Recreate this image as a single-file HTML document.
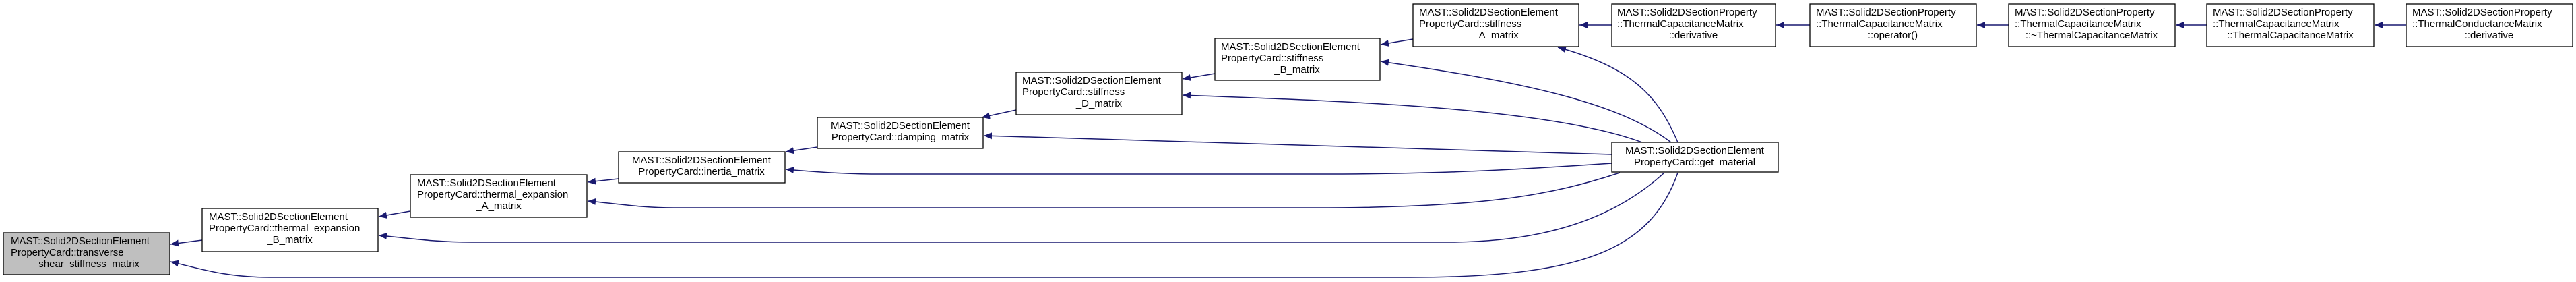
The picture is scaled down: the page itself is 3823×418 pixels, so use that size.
<!DOCTYPE html>
<html><head><meta charset="utf-8"><style>
html,body{margin:0;padding:0;background:#fff;}
svg{display:block;}
text{font-family:"Liberation Sans",Arial,sans-serif;font-size:15px;fill:#000;}
</style></head><body>
<svg width="3823" height="418" viewBox="0 0 3823 418" xmlns="http://www.w3.org/2000/svg">
<defs>
<marker id="a" markerUnits="userSpaceOnUse" markerWidth="14" markerHeight="12" refX="12" refY="5" orient="auto">
<path d="M0,0 L12,5 L0,10 z" fill="#191970"/>
</marker>
</defs>
<g fill="none" stroke="#191970" stroke-width="1.5" marker-end="url(#a)">
<!-- chain -->
<path d="M300,356 L253,362"/>
<path d="M609,313 L562,321"/>
<path d="M918,265 L872,270"/>
<path d="M1213,218 L1166,225"/>
<path d="M1508,163 L1457,174"/>
<path d="M1803,109 L1755,117"/>
<path d="M2097,58 L2049,66"/>
<path d="M2392,37 L2344,37"/>
<path d="M2686,37 L2636,37"/>
<path d="M2981,37 L2934,37"/>
<path d="M3275,37 L3229,37"/>
<path d="M3571,37 L3524,37"/>
<!-- from get_material -->
<path d="M2490,211 C2460,140 2420,100 2312,70"/>
<path d="M2480,211 C2400,150 2250,120 2049,91"/>
<path d="M2437,211 C2300,160 2000,150 1755,141"/>
<path d="M2392,229 L1460,201"/>
<path d="M2392,242 C2200,255 2100,258 1950,258 L1300,258 C1250,258 1200,254 1166,251"/>
<path d="M2404,256 C2300,290 2200,308 1950,308 L1000,308 C950,308 910,301 872,298"/>
<path d="M2470,256 C2400,320 2300,359 2150,359 L700,359 C640,359 600,352 562,349"/>
<path d="M2490,256 C2450,370 2350,411 2093,411 L400,411 C330,411 290,396 253,388"/>
</g>
<g stroke-width="1.3">
<rect x="5" y="345" width="247" height="62" fill="#bfbfbf" stroke="#000"/>
<rect x="300" y="309" width="261" height="64" fill="#fff" stroke="#000"/>
<rect x="609" y="259" width="262" height="63" fill="#fff" stroke="#000"/>
<rect x="918" y="225" width="247" height="46" fill="#fff" stroke="#000"/>
<rect x="1213" y="174" width="246" height="46" fill="#fff" stroke="#000"/>
<rect x="1508" y="107" width="246" height="63" fill="#fff" stroke="#000"/>
<rect x="1803" y="57" width="245" height="62" fill="#fff" stroke="#000"/>
<rect x="2097" y="6" width="246" height="63" fill="#fff" stroke="#000"/>
<rect x="2392" y="6" width="243" height="63" fill="#fff" stroke="#000"/>
<rect x="2392" y="211" width="247" height="44" fill="#fff" stroke="#000"/>
<rect x="2686" y="6" width="247" height="63" fill="#fff" stroke="#000"/>
<rect x="2981" y="6" width="247" height="63" fill="#fff" stroke="#000"/>
<rect x="3275" y="6" width="248" height="63" fill="#fff" stroke="#000"/>
<rect x="3571" y="6" width="247" height="63" fill="#fff" stroke="#000"/>
</g>
<text x="16" y="362">MAST::Solid2DSectionElement</text>
<text x="16" y="379">PropertyCard::transverse</text>
<text x="128" y="396" text-anchor="middle">_shear_stiffness_matrix</text>

<text x="310" y="326">MAST::Solid2DSectionElement</text>
<text x="310" y="343">PropertyCard::thermal_expansion</text>
<text x="430" y="360" text-anchor="middle">_B_matrix</text>

<text x="619" y="276">MAST::Solid2DSectionElement</text>
<text x="619" y="293">PropertyCard::thermal_expansion</text>
<text x="740" y="310" text-anchor="middle">_A_matrix</text>

<text x="1041" y="242" text-anchor="middle">MAST::Solid2DSectionElement</text>
<text x="1041" y="259" text-anchor="middle">PropertyCard::inertia_matrix</text>

<text x="1336" y="191" text-anchor="middle">MAST::Solid2DSectionElement</text>
<text x="1336" y="208" text-anchor="middle">PropertyCard::damping_matrix</text>

<text x="1517" y="124">MAST::Solid2DSectionElement</text>
<text x="1517" y="141">PropertyCard::stiffness</text>
<text x="1631" y="158" text-anchor="middle">_D_matrix</text>

<text x="1812" y="74">MAST::Solid2DSectionElement</text>
<text x="1812" y="91">PropertyCard::stiffness</text>
<text x="1925" y="108" text-anchor="middle">_B_matrix</text>

<text x="2106" y="23">MAST::Solid2DSectionElement</text>
<text x="2106" y="40">PropertyCard::stiffness</text>
<text x="2220" y="57" text-anchor="middle">_A_matrix</text>

<text x="2400" y="23">MAST::Solid2DSectionProperty</text>
<text x="2400" y="40">::ThermalCapacitanceMatrix</text>
<text x="2513" y="57" text-anchor="middle">::derivative</text>

<text x="2515" y="228" text-anchor="middle">MAST::Solid2DSectionElement</text>
<text x="2515" y="245" text-anchor="middle">PropertyCard::get_material</text>

<text x="2695" y="23">MAST::Solid2DSectionProperty</text>
<text x="2695" y="40">::ThermalCapacitanceMatrix</text>
<text x="2809" y="57" text-anchor="middle">::operator()</text>

<text x="2990" y="23">MAST::Solid2DSectionProperty</text>
<text x="2990" y="40">::ThermalCapacitanceMatrix</text>
<text x="3104" y="57" text-anchor="middle">::~ThermalCapacitanceMatrix</text>

<text x="3284" y="23">MAST::Solid2DSectionProperty</text>
<text x="3284" y="40">::ThermalCapacitanceMatrix</text>
<text x="3399" y="57" text-anchor="middle">::ThermalCapacitanceMatrix</text>

<text x="3580" y="23">MAST::Solid2DSectionProperty</text>
<text x="3580" y="40">::ThermalConductanceMatrix</text>
<text x="3694" y="57" text-anchor="middle">::derivative</text>
</svg>
</body></html>
